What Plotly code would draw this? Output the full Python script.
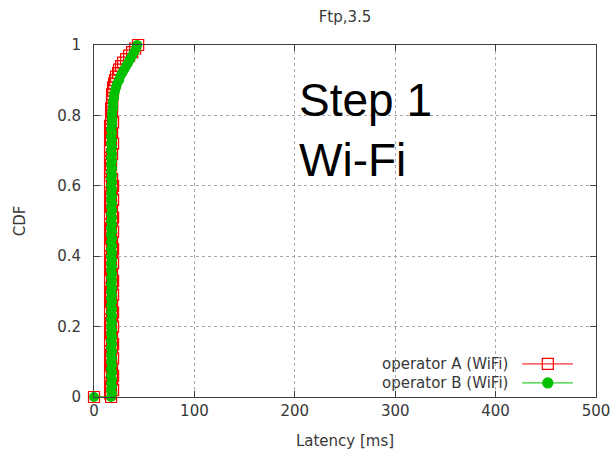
import plotly.graph_objects as go

title_text = "Ftp,3.5"
x_label = "Latency [ms]"
y_label = "CDF"
names = ["operator A (WiFi)", "operator B (WiFi)"]
x_ticks = [0, 100, 200, 300, 400, 500]
y_ticks = [0, 0.2, 0.4, 0.6, 0.8, 1]

# CDF levels (shared by both series), preceded by the (0 ms, 0) start point
cdf_levels = [0.00, 0.01, 0.02, 0.03, 0.04, 0.05, 0.06, 0.07, 0.08, 0.09,
              0.10, 0.11, 0.12, 0.13, 0.14, 0.15, 0.16, 0.17, 0.18, 0.19,
              0.20, 0.21, 0.22, 0.23, 0.24, 0.25, 0.26, 0.27, 0.28, 0.29,
              0.30, 0.31, 0.32, 0.33, 0.34, 0.35, 0.36, 0.37, 0.38, 0.39,
              0.40, 0.41, 0.42, 0.43, 0.44, 0.45, 0.46, 0.47, 0.48, 0.49,
              0.50, 0.51, 0.52, 0.53, 0.54, 0.55, 0.56, 0.57, 0.58, 0.59,
              0.60, 0.61, 0.62, 0.63, 0.64, 0.65, 0.66, 0.67, 0.68, 0.69,
              0.70, 0.71, 0.72, 0.73, 0.74, 0.75, 0.76, 0.77, 0.78, 0.79,
              0.80, 0.81, 0.82, 0.83, 0.84, 0.85, 0.86, 0.87, 0.88, 0.89,
              0.90, 0.91, 0.92, 0.93, 0.94, 0.95, 0.96, 0.97, 0.98, 0.99, 1.00]

# operator A (WiFi) latency [ms] at each CDF level
lat_a = [17, 16, 19, 17, 16, 18, 19, 16, 18, 17,
         16, 19, 17, 16, 18, 19, 16, 18, 17, 16,
         19, 17, 16, 18, 19, 16, 18, 17, 16, 19,
         17, 16, 18, 19, 16, 18, 17, 16, 19, 17,
         16, 18, 19, 16, 18, 17, 16, 19, 17, 16,
         18, 19, 16, 18, 17, 16, 19, 17, 16, 18,
         19, 16, 18, 16, 16, 16, 17, 16, 16, 18,
         16, 16, 19, 17, 16, 18, 17, 16, 19, 17,
         17, 18, 17, 18, 18, 18, 18, 19, 19, 20,
         21, 22, 24, 25, 27, 29, 32, 35, 38, 41, 44]

# operator B (WiFi) latency [ms] at each CDF level
lat_b = [17, 18, 17, 18, 17, 18, 17, 18, 17, 18,
         17, 18, 17, 18, 17, 18, 17, 18, 17, 18,
         17, 18, 17, 18, 17, 18, 17, 18, 17, 18,
         17, 18, 17, 18, 17, 18, 17, 18, 17, 18,
         17, 18, 17, 18, 17, 18, 17, 18, 17, 18,
         17, 18, 17, 18, 17, 18, 17, 18, 17, 18,
         17, 18, 17, 18, 17, 18, 17, 18, 17, 18,
         17, 18, 17, 18, 17, 18, 17, 18, 18, 18,
         18, 18, 19, 19, 19, 20, 20, 21, 22, 23,
         25, 26, 28, 30, 32, 34, 36, 38, 40, 42, 43]

start_lat = [0]
start_cdf = [0]

# legend sample geometry (hidden overlay axis units 0..1)
legend_x = [0.853, 0.954]
legend_mid = 0.904
legend_y = [0.094, 0.040]

RED = "#ff0000"
GREEN = "#00c000"
TXT = "#383838"
TICK_FONT = dict(family="DejaVu Sans", size=15, color=TXT)
LABEL_FONT = dict(family="DejaVu Sans", size=15, color=TXT)
LEG_FONT = dict(family="DejaVu Sans", size=15, color=TXT)

fig = go.Figure()
fig.add_trace(go.Scatter(
    x=start_lat + lat_a, y=start_cdf + cdf_levels, mode="lines+markers", name=names[0],
    showlegend=False, line=dict(color=RED, width=1),
    marker=dict(symbol="square-open", size=11, color=RED, line=dict(width=1.2, color=RED)),
    cliponaxis=False))
fig.add_trace(go.Scatter(
    x=start_lat + lat_b, y=start_cdf + cdf_levels, mode="lines+markers", name=names[1],
    showlegend=False, line=dict(color=GREEN, width=1),
    marker=dict(symbol="circle", size=10, color=GREEN),
    cliponaxis=False))

# custom legend (text left of the sample, like the reference)
for i, (col, sym) in enumerate([(RED, "square-open"), (GREEN, "circle")]):
    fig.add_trace(go.Scatter(
        x=legend_x, y=[legend_y[i]] * 2, mode="lines", showlegend=False,
        line=dict(color=col, width=1), xaxis="x2", yaxis="y2", hoverinfo="skip"))
    fig.add_trace(go.Scatter(
        x=[legend_mid], y=[legend_y[i]], mode="markers", showlegend=False,
        marker=dict(symbol=sym, size=11 if i == 0 else 10, color=col,
                    line=dict(width=1.2, color=col)),
        xaxis="x2", yaxis="y2", hoverinfo="skip", cliponaxis=False))
    fig.add_annotation(x=0.829, y=legend_y[i], xref="paper", yref="paper",
                       text=names[i], showarrow=False, xanchor="right", yanchor="middle",
                       font=LEG_FONT)

fig.add_annotation(x=(297 - 94) / 502, y=(397 - 130) / 352, xref="paper", yref="paper",
                   text="Step 1<br>Wi-Fi", showarrow=False, xanchor="left", yanchor="middle",
                   align="left",
                   font=dict(family="Liberation Sans", size=46, color="#000000"))

fig.update_layout(
    width=613, height=453, autosize=False,
    margin=dict(l=94, r=17, t=45, b=56, autoexpand=False),
    paper_bgcolor="white", plot_bgcolor="white",
    title=dict(text=title_text, x=345 / 613, xanchor="center", y=1 - 17 / 453,
               yanchor="middle", font=LABEL_FONT),
    font=TICK_FONT,
    xaxis=dict(range=[0, 500], tickvals=x_ticks, ticks="inside", ticklen=6,
               tickcolor="#404040", showline=True, linecolor="#404040", linewidth=1,
               mirror="ticks", showgrid=True, gridcolor="#a8a8a8", griddash="dot",
               gridwidth=1, zeroline=False, tickfont=TICK_FONT, automargin=False,
               title=dict(text=x_label, font=LABEL_FONT, standoff=16)),
    yaxis=dict(range=[0, 1], tickvals=y_ticks, ticks="inside", ticklen=6,
               tickcolor="#404040", showline=True, linecolor="#404040", linewidth=1,
               mirror="ticks", showgrid=True, gridcolor="#a8a8a8", griddash="dot",
               gridwidth=1, zeroline=False, tickfont=TICK_FONT, ticklabelstandoff=9,
               automargin=False,
               title=dict(text=y_label, font=LABEL_FONT, standoff=27)),
    xaxis2=dict(range=[0, 1], overlaying="x", visible=False),
    yaxis2=dict(range=[0, 1], overlaying="y", visible=False),
)

fig.write_html("out.html", config={"displayModeBar": False},
               post_script="document.body.style.margin='0';")
